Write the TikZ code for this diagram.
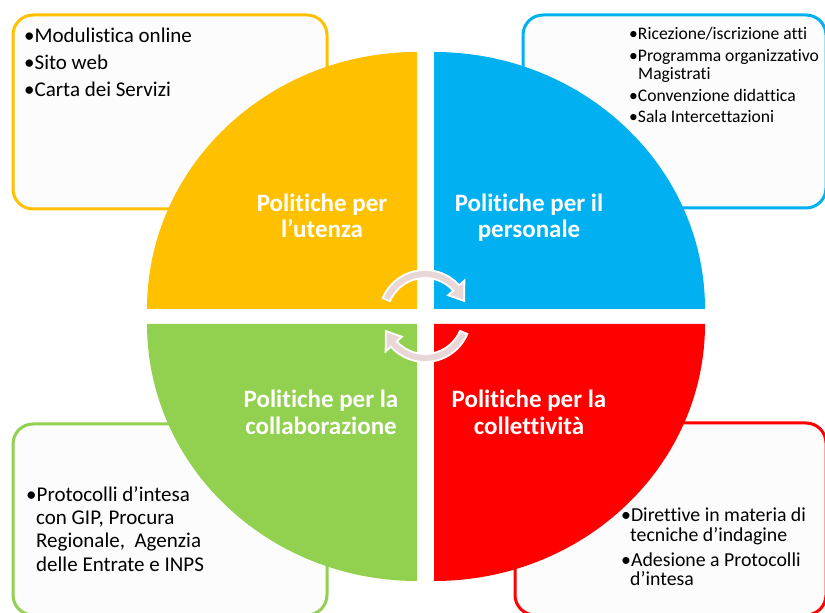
\documentclass[tikz,border=0pt]{standalone}
\usepackage{fontspec}
\setmainfont{Carlito}[Ligatures=NoCommon]
\definecolor{cY}{HTML}{FFC000}
\definecolor{cB}{HTML}{00B0F0}
\definecolor{cG}{HTML}{92D050}
\definecolor{cR}{HTML}{FF0000}
\definecolor{cycpink}{RGB}{233,214,214}
\definecolor{boxfill}{HTML}{FCFCFC}
\tikzset{
  infobox/.style={line width=3pt, rounded corners=20pt, fill=boxfill},
  lbl/.style={text=white, font=\fontsize{25}{26}\selectfont\bfseries, anchor=base, inner sep=0pt},
  itemY/.style={anchor=base west, inner sep=0pt, font=\fontsize{21}{24}\selectfont},
  itemB/.style={anchor=base west, inner sep=0pt, font=\fontsize{17.6}{20}\selectfont},
  itemG/.style={anchor=base west, inner sep=0pt, font=\fontsize{21}{24}\selectfont},
  itemR/.style={anchor=base west, inner sep=0pt, font=\fontsize{19.8}{22}\selectfont},
  cyc/.style={fill=cycpink, draw=white, line width=1.8pt, line join=miter},
}
\begin{document}
\begin{tikzpicture}[x=1pt,y=1pt]
\useasboundingbox (0,0) rectangle (825,613);
\fill[white] (0,0) rectangle (825,613);

% side boxes
\draw[infobox, draw=cY] (13,404) rectangle (327,598);
\draw[infobox, draw=cB] (523,405) rectangle (826,598);
\draw[infobox, draw=cG] (13,-2) rectangle (327,189);
\draw[infobox, draw=cR] (515,-2) rectangle (826,190);

% quadrants
\fill[cY] (417,304) -- (147,304) arc[start angle=180, end angle=90, x radius=270, y radius=257] -- cycle;
\fill[cB] (434,304) -- (434,561) arc[start angle=90, end angle=0, x radius=271, y radius=257] -- cycle;
\fill[cG] (417,289) -- (417,32) arc[start angle=270, end angle=180, x radius=270, y radius=257] -- cycle;
\fill[cR] (434,289) -- (705,289) arc[start angle=0, end angle=-90, x radius=271, y radius=257] -- cycle;

% cycle arrows
\begin{scope}[shift={(425,297)}]
  \filldraw[cyc] (157:46) arc[start angle=157, end angle=42, radius=46] -- (42:53) -- (21:42) -- (42:31) -- (42:38) arc[start angle=42, end angle=157, radius=38] -- cycle;
  \filldraw[cyc] (-23:46) arc[start angle=-23, end angle=-138, radius=46] -- (-138:53) -- (-159:42) -- (-138:31) -- (-138:38) arc[start angle=-138, end angle=-23, radius=38] -- cycle;
\end{scope}

% quadrant labels
\node[lbl] (ly1) at (322,401) {Politiche per};
\node[lbl] (ly2) at (322,375) {l’utenza};
\node[lbl] (lb1) at (529,401) {Politiche per il};
\node[lbl] (lb2) at (529,375) {personale};
\node[lbl] (lg1) at (321,205) {Politiche per la};
\node[lbl] (lg2) at (321,178) {collaborazione};
\node[lbl] (lr1) at (529,205) {Politiche per la};
\node[lbl] (lr2) at (529,178) {collettività};

% yellow box items
\node[itemY] (y1) at (24,570) {•Modulistica online};
\node[itemY] (y2) at (24,543) {•Sito web};
\node[itemY] (y3) at (24,516) {•Carta dei Servizi};

% blue box items
\node[itemB] (b1) at (629,573) {•Ricezione/iscrizione atti};
\node[itemB] (b2) at (629,551) {•Programma organizzativo};
\node[itemB] (b3) at (638,533) {Magistrati};
\node[itemB] (b4) at (629,511) {•Convenzione didattica};
\node[itemB] (b5) at (629,490) {•Sala Intercettazioni};

% green box items
\node[itemG] (g1) at (26,111) {•Protocolli d’intesa};
\node[itemG] (g2) at (36,88) {con GIP, Procura};
\node[itemG] (g3) at (36,65) {Regionale,\ \ Agenzia};
\node[itemG] (g4) at (36,41) {delle Entrate e INPS};

% red box items
\node[itemR] (r1) at (621,91) {•Direttive in materia di};
\node[itemR] (r2) at (630,71) {tecniche d’indagine};
\node[itemR] (r3) at (621,46) {•Adesione a Protocolli};
\node[itemR] (r4) at (630,27) {d’intesa};
\end{tikzpicture}
\end{document}
